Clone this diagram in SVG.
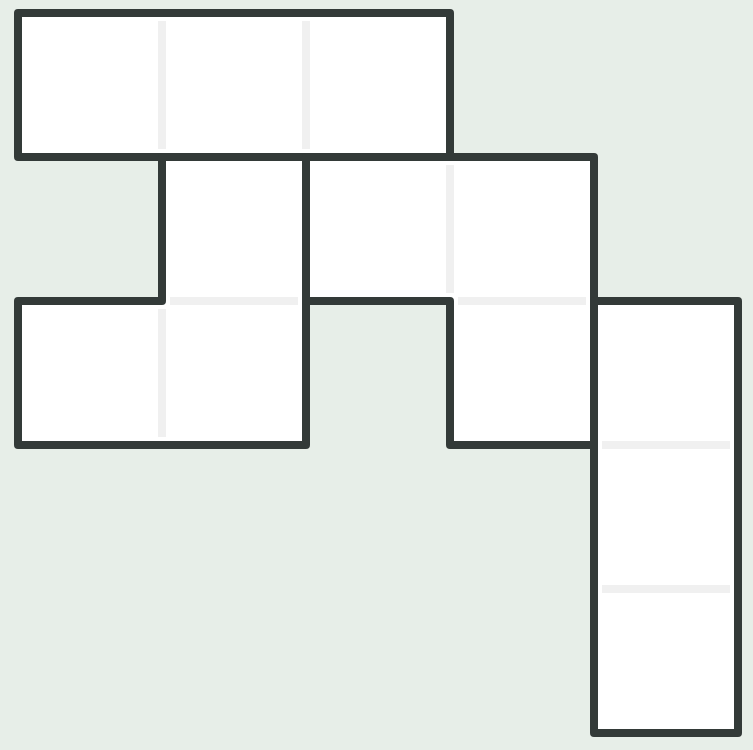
<svg xmlns="http://www.w3.org/2000/svg" width="753" height="750" viewBox="0 0 753 750">
<style>
.cell{fill:#ffffff;stroke:none}
.in{stroke:#f0f0f0;stroke-width:8;stroke-linecap:butt;fill:none}
.out{fill:none;stroke:#333a38;stroke-width:8;stroke-linejoin:round;stroke-linecap:round}
</style>
<rect width="753" height="750" fill="#e7eee8"/>
<g id="regionA">
<rect class="cell" x="18" y="13" width="432" height="144"/>
<line class="in" x1="162" y1="21" x2="162" y2="149"/>
<line class="in" x1="306" y1="21" x2="306" y2="149"/>
</g>
<g id="regionB">
<path class="cell" d="M162,157 L306,157 L306,445 L18,445 L18,301 L162,301 Z"/>
<line class="in" x1="170" y1="301" x2="298" y2="301"/>
<line class="in" x1="162" y1="309" x2="162" y2="437"/>
</g>
<g id="regionC">
<path class="cell" d="M306,157 L594,157 L594,445 L450,445 L450,301 L306,301 Z"/>
<line class="in" x1="450" y1="165" x2="450" y2="293"/>
<line class="in" x1="458" y1="301" x2="586" y2="301"/>
</g>
<g id="regionD">
<rect class="cell" x="594" y="301" width="144" height="432"/>
<line class="in" x1="602" y1="445" x2="730" y2="445"/>
<line class="in" x1="602" y1="589" x2="730" y2="589"/>
</g>
<g id="outlines">
<rect class="out" x="18" y="13" width="432" height="144"/>
<path class="out" d="M162,157 L306,157 L306,445 L18,445 L18,301 L162,301 Z"/>
<path class="out" d="M306,157 L594,157 L594,445 L450,445 L450,301 L306,301 Z"/>
<rect class="out" x="594" y="301" width="144" height="432"/>
</g>
</svg>
